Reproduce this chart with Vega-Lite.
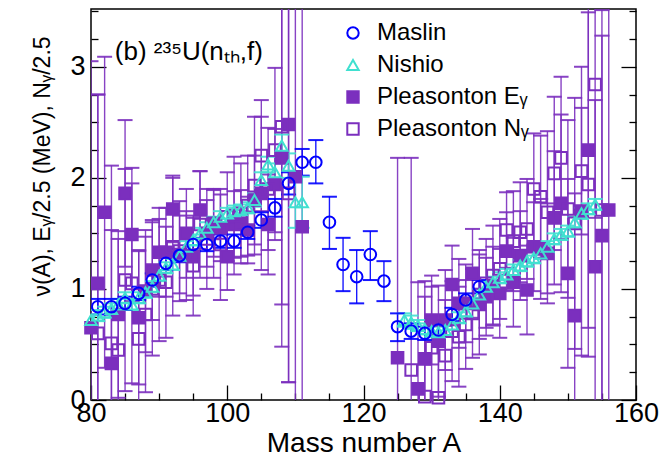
{
  "$schema": "https://vega.github.io/schema/vega-lite/v6.json",
  "width": 545,
  "height": 391,
  "autosize": {"type": "none"},
  "padding": {"left": 91, "top": 9, "right": 28, "bottom": 59},
  "background": "white",
  "config": {
    "view": {"stroke": "black", "strokeWidth": 1.5},
    "font": "Liberation Sans",
    "axis": {"domain": false, "grid": false, "tickColor": "black", "tickWidth": 1.3, "labelColor": "black", "titleColor": "black", "labelFont": "Liberation Sans", "titleFont": "Liberation Sans", "labelFontSize": 27, "titleFontSize": 23, "titleFontWeight": "normal", "labelOverlap": false, "labelFlush": false}
  },
  "datasets": {
    "pts": [
      {"s": "Pleasonton E\u1d67", "A": 80, "v": 0.65, "lo": -1.75, "hi": 3.05},
      {"s": "Pleasonton E\u1d67", "A": 81, "v": 1.05, "lo": -0.65, "hi": 2.75},
      {"s": "Pleasonton E\u1d67", "A": 82, "v": 1.69, "lo": 0.29, "hi": 3.09},
      {"s": "Pleasonton E\u1d67", "A": 83, "v": 0.33, "lo": -0.87, "hi": 1.53},
      {"s": "Pleasonton E\u1d67", "A": 84, "v": 0.77, "lo": 0.02, "hi": 1.52},
      {"s": "Pleasonton E\u1d67", "A": 85, "v": 1.86, "lo": 1.2, "hi": 2.52},
      {"s": "Pleasonton E\u1d67", "A": 86, "v": 1.49, "lo": 0.89, "hi": 2.09},
      {"s": "Pleasonton E\u1d67", "A": 87, "v": 0.74, "lo": 0.14, "hi": 1.34},
      {"s": "Pleasonton E\u1d67", "A": 88, "v": 0.98, "lo": 0.43, "hi": 1.53},
      {"s": "Pleasonton E\u1d67", "A": 89, "v": 1.17, "lo": 0.72, "hi": 1.62},
      {"s": "Pleasonton E\u1d67", "A": 90, "v": 1.33, "lo": 0.93, "hi": 1.73},
      {"s": "Pleasonton E\u1d67", "A": 91, "v": 1.33, "lo": 0.93, "hi": 1.73},
      {"s": "Pleasonton E\u1d67", "A": 92, "v": 1.72, "lo": 1.42, "hi": 2.02},
      {"s": "Pleasonton E\u1d67", "A": 93, "v": 1.31, "lo": 0.96, "hi": 1.66},
      {"s": "Pleasonton E\u1d67", "A": 94, "v": 1.5, "lo": 1.1, "hi": 1.9},
      {"s": "Pleasonton E\u1d67", "A": 95, "v": 1.29, "lo": 0.94, "hi": 1.64},
      {"s": "Pleasonton E\u1d67", "A": 96, "v": 1.71, "lo": 1.36, "hi": 2.06},
      {"s": "Pleasonton E\u1d67", "A": 97, "v": 1.5, "lo": 1.2, "hi": 1.8},
      {"s": "Pleasonton E\u1d67", "A": 98, "v": 1.59, "lo": 1.29, "hi": 1.89},
      {"s": "Pleasonton E\u1d67", "A": 99, "v": 1.55, "lo": 1.25, "hi": 1.85},
      {"s": "Pleasonton E\u1d67", "A": 100, "v": 1.29, "lo": 0.99, "hi": 1.59},
      {"s": "Pleasonton E\u1d67", "A": 101, "v": 1.58, "lo": 1.28, "hi": 1.88},
      {"s": "Pleasonton E\u1d67", "A": 102, "v": 1.59, "lo": 1.29, "hi": 1.89},
      {"s": "Pleasonton E\u1d67", "A": 103, "v": 1.53, "lo": 1.23, "hi": 1.83},
      {"s": "Pleasonton E\u1d67", "A": 104, "v": 1.8, "lo": 1.4, "hi": 2.2},
      {"s": "Pleasonton E\u1d67", "A": 105, "v": 1.86, "lo": 1.17, "hi": 2.55},
      {"s": "Pleasonton E\u1d67", "A": 106, "v": 1.58, "lo": 1.13, "hi": 2.03},
      {"s": "Pleasonton E\u1d67", "A": 107, "v": 1.94, "lo": 1.44, "hi": 2.44},
      {"s": "Pleasonton E\u1d67", "A": 108, "v": 2.18, "lo": 0.48, "hi": 3.88},
      {"s": "Pleasonton E\u1d67", "A": 109, "v": 2.48, "lo": 0.16, "hi": 4.8},
      {"s": "Pleasonton E\u1d67", "A": 110, "v": 2.01, "lo": -0.19, "hi": 4.21},
      {"s": "Pleasonton E\u1d67", "A": 111, "v": 1.56, "lo": -0.64, "hi": 3.76},
      {"s": "Pleasonton E\u1d67", "A": 125, "v": 0.38, "lo": -1.42, "hi": 2.18},
      {"s": "Pleasonton E\u1d67", "A": 128, "v": 0.1, "lo": -0.86, "hi": 1.06},
      {"s": "Pleasonton E\u1d67", "A": 129, "v": 0.37, "lo": -0.33, "hi": 1.07},
      {"s": "Pleasonton E\u1d67", "A": 130, "v": 0.72, "lo": 0.32, "hi": 1.12},
      {"s": "Pleasonton E\u1d67", "A": 131, "v": 0.53, "lo": 0.03, "hi": 1.03},
      {"s": "Pleasonton E\u1d67", "A": 132, "v": 0.72, "lo": 0.27, "hi": 1.17},
      {"s": "Pleasonton E\u1d67", "A": 133, "v": 1.04, "lo": 0.69, "hi": 1.39},
      {"s": "Pleasonton E\u1d67", "A": 134, "v": 0.87, "lo": 0.47, "hi": 1.27},
      {"s": "Pleasonton E\u1d67", "A": 135, "v": 0.87, "lo": 0.52, "hi": 1.22},
      {"s": "Pleasonton E\u1d67", "A": 136, "v": 1.14, "lo": 0.74, "hi": 1.54},
      {"s": "Pleasonton E\u1d67", "A": 137, "v": 0.86, "lo": 0.41, "hi": 1.31},
      {"s": "Pleasonton E\u1d67", "A": 138, "v": 0.93, "lo": 0.58, "hi": 1.28},
      {"s": "Pleasonton E\u1d67", "A": 139, "v": 1.03, "lo": 0.68, "hi": 1.38},
      {"s": "Pleasonton E\u1d67", "A": 140, "v": 0.96, "lo": 0.56, "hi": 1.36},
      {"s": "Pleasonton E\u1d67", "A": 141, "v": 1.34, "lo": 0.99, "hi": 1.69},
      {"s": "Pleasonton E\u1d67", "A": 142, "v": 1.06, "lo": 0.66, "hi": 1.46},
      {"s": "Pleasonton E\u1d67", "A": 143, "v": 1.3, "lo": 0.9, "hi": 1.7},
      {"s": "Pleasonton E\u1d67", "A": 144, "v": 0.99, "lo": 0.59, "hi": 1.39},
      {"s": "Pleasonton E\u1d67", "A": 145, "v": 1.38, "lo": 0.98, "hi": 1.78},
      {"s": "Pleasonton E\u1d67", "A": 146, "v": 1.36, "lo": 0.91, "hi": 1.81},
      {"s": "Pleasonton E\u1d67", "A": 147, "v": 1.32, "lo": 0.87, "hi": 1.77},
      {"s": "Pleasonton E\u1d67", "A": 148, "v": 1.64, "lo": 1.04, "hi": 2.24},
      {"s": "Pleasonton E\u1d67", "A": 149, "v": 1.77, "lo": 0.97, "hi": 2.57},
      {"s": "Pleasonton E\u1d67", "A": 150, "v": 1.14, "lo": 0.29, "hi": 1.99},
      {"s": "Pleasonton E\u1d67", "A": 151, "v": 0.76, "lo": -0.34, "hi": 1.86},
      {"s": "Pleasonton E\u1d67", "A": 152, "v": 1.7, "lo": 0.4, "hi": 3.0},
      {"s": "Pleasonton E\u1d67", "A": 153, "v": 2.25, "lo": 0.65, "hi": 3.85},
      {"s": "Pleasonton E\u1d67", "A": 154, "v": 1.2, "lo": -0.3, "hi": 2.7},
      {"s": "Pleasonton E\u1d67", "A": 155, "v": 1.48, "lo": -0.32, "hi": 3.28},
      {"s": "Pleasonton E\u1d67", "A": 156, "v": 1.71, "lo": -0.19, "hi": 3.61},
      {"s": "Pleasonton N\u1d67", "A": 81, "v": 0.6, "lo": -1.55, "hi": 2.75},
      {"s": "Pleasonton N\u1d67", "A": 83, "v": 0.51, "lo": -1.09, "hi": 2.11},
      {"s": "Pleasonton N\u1d67", "A": 84, "v": 0.45, "lo": -0.55, "hi": 1.45},
      {"s": "Pleasonton N\u1d67", "A": 85, "v": 1.08, "lo": 0.08, "hi": 2.08},
      {"s": "Pleasonton N\u1d67", "A": 86, "v": 1.05, "lo": 0.15, "hi": 1.95},
      {"s": "Pleasonton N\u1d67", "A": 87, "v": 0.55, "lo": -0.25, "hi": 1.35},
      {"s": "Pleasonton N\u1d67", "A": 88, "v": 0.77, "lo": 0.07, "hi": 1.47},
      {"s": "Pleasonton N\u1d67", "A": 89, "v": 1.0, "lo": 0.4, "hi": 1.6},
      {"s": "Pleasonton N\u1d67", "A": 90, "v": 1.08, "lo": 0.53, "hi": 1.63},
      {"s": "Pleasonton N\u1d67", "A": 91, "v": 1.06, "lo": 0.56, "hi": 1.56},
      {"s": "Pleasonton N\u1d67", "A": 92, "v": 1.38, "lo": 0.76, "hi": 2.0},
      {"s": "Pleasonton N\u1d67", "A": 93, "v": 1.34, "lo": 0.89, "hi": 1.79},
      {"s": "Pleasonton N\u1d67", "A": 94, "v": 1.3, "lo": 0.9, "hi": 1.7},
      {"s": "Pleasonton N\u1d67", "A": 95, "v": 1.21, "lo": 0.76, "hi": 1.66},
      {"s": "Pleasonton N\u1d67", "A": 96, "v": 1.58, "lo": 1.1, "hi": 2.06},
      {"s": "Pleasonton N\u1d67", "A": 97, "v": 1.45, "lo": 1.0, "hi": 1.9},
      {"s": "Pleasonton N\u1d67", "A": 98, "v": 1.5, "lo": 1.1, "hi": 1.9},
      {"s": "Pleasonton N\u1d67", "A": 99, "v": 1.4, "lo": 0.9, "hi": 1.9},
      {"s": "Pleasonton N\u1d67", "A": 100, "v": 1.65, "lo": 1.25, "hi": 2.05},
      {"s": "Pleasonton N\u1d67", "A": 101, "v": 1.66, "lo": 1.13, "hi": 2.19},
      {"s": "Pleasonton N\u1d67", "A": 102, "v": 1.68, "lo": 1.23, "hi": 2.13},
      {"s": "Pleasonton N\u1d67", "A": 103, "v": 1.75, "lo": 1.3, "hi": 2.2},
      {"s": "Pleasonton N\u1d67", "A": 104, "v": 1.93, "lo": 1.31, "hi": 2.55},
      {"s": "Pleasonton N\u1d67", "A": 105, "v": 2.2, "lo": 1.7, "hi": 2.7},
      {"s": "Pleasonton N\u1d67", "A": 106, "v": 1.9, "lo": 1.35, "hi": 2.45},
      {"s": "Pleasonton N\u1d67", "A": 107, "v": 2.25, "lo": 1.51, "hi": 2.99},
      {"s": "Pleasonton N\u1d67", "A": 108, "v": 2.46, "lo": 0.86, "hi": 4.06},
      {"s": "Pleasonton N\u1d67", "A": 109, "v": 1.86, "lo": 0.16, "hi": 3.56},
      {"s": "Pleasonton N\u1d67", "A": 127, "v": 0.27, "lo": -1.64, "hi": 2.18},
      {"s": "Pleasonton N\u1d67", "A": 129, "v": 0.03, "lo": -0.87, "hi": 0.93},
      {"s": "Pleasonton N\u1d67", "A": 130, "v": 0.47, "lo": -0.08, "hi": 1.02},
      {"s": "Pleasonton N\u1d67", "A": 131, "v": 0.02, "lo": -0.68, "hi": 0.72},
      {"s": "Pleasonton N\u1d67", "A": 132, "v": 0.4, "lo": -0.1, "hi": 0.9},
      {"s": "Pleasonton N\u1d67", "A": 133, "v": 0.62, "lo": 0.17, "hi": 1.07},
      {"s": "Pleasonton N\u1d67", "A": 134, "v": 0.57, "lo": 0.12, "hi": 1.02},
      {"s": "Pleasonton N\u1d67", "A": 135, "v": 0.68, "lo": 0.28, "hi": 1.08},
      {"s": "Pleasonton N\u1d67", "A": 136, "v": 0.78, "lo": 0.38, "hi": 1.18},
      {"s": "Pleasonton N\u1d67", "A": 137, "v": 0.95, "lo": 0.55, "hi": 1.35},
      {"s": "Pleasonton N\u1d67", "A": 138, "v": 1.05, "lo": 0.65, "hi": 1.45},
      {"s": "Pleasonton N\u1d67", "A": 139, "v": 1.12, "lo": 0.67, "hi": 1.57},
      {"s": "Pleasonton N\u1d67", "A": 140, "v": 1.18, "lo": 0.73, "hi": 1.63},
      {"s": "Pleasonton N\u1d67", "A": 141, "v": 1.53, "lo": 1.19, "hi": 1.87},
      {"s": "Pleasonton N\u1d67", "A": 142, "v": 1.43, "lo": 0.98, "hi": 1.88},
      {"s": "Pleasonton N\u1d67", "A": 143, "v": 1.51, "lo": 1.06, "hi": 1.96},
      {"s": "Pleasonton N\u1d67", "A": 144, "v": 1.54, "lo": 1.09, "hi": 1.99},
      {"s": "Pleasonton N\u1d67", "A": 145, "v": 1.9, "lo": 1.4, "hi": 2.4},
      {"s": "Pleasonton N\u1d67", "A": 146, "v": 1.83, "lo": 1.28, "hi": 2.38},
      {"s": "Pleasonton N\u1d67", "A": 147, "v": 1.69, "lo": 0.96, "hi": 2.42},
      {"s": "Pleasonton N\u1d67", "A": 148, "v": 2.04, "lo": 1.35, "hi": 2.73},
      {"s": "Pleasonton N\u1d67", "A": 149, "v": 2.18, "lo": 1.45, "hi": 2.91},
      {"s": "Pleasonton N\u1d67", "A": 150, "v": 1.72, "lo": 0.92, "hi": 2.52},
      {"s": "Pleasonton N\u1d67", "A": 151, "v": 1.59, "lo": 0.46, "hi": 2.72},
      {"s": "Pleasonton N\u1d67", "A": 152, "v": 2.06, "lo": 1.49, "hi": 2.63},
      {"s": "Pleasonton N\u1d67", "A": 153, "v": 1.94, "lo": 0.39, "hi": 3.49},
      {"s": "Pleasonton N\u1d67", "A": 154, "v": 2.84, "lo": 1.64, "hi": 4.04},
      {"s": "Pleasonton N\u1d67", "A": 155, "v": 1.71, "lo": -0.09, "hi": 3.51},
      {"s": "Nishio", "A": 80, "v": 0.72, "lo": 0.67, "hi": 0.77},
      {"s": "Nishio", "A": 81, "v": 0.76, "lo": 0.71, "hi": 0.81},
      {"s": "Nishio", "A": 82, "v": 0.79, "lo": 0.74, "hi": 0.84},
      {"s": "Nishio", "A": 83, "v": 0.82, "lo": 0.77, "hi": 0.87},
      {"s": "Nishio", "A": 84, "v": 0.86, "lo": 0.81, "hi": 0.91},
      {"s": "Nishio", "A": 85, "v": 0.92, "lo": 0.87, "hi": 0.97},
      {"s": "Nishio", "A": 86, "v": 0.86, "lo": 0.81, "hi": 0.91},
      {"s": "Nishio", "A": 87, "v": 0.92, "lo": 0.87, "hi": 0.97},
      {"s": "Nishio", "A": 88, "v": 0.97, "lo": 0.92, "hi": 1.02},
      {"s": "Nishio", "A": 89, "v": 1.02, "lo": 0.97, "hi": 1.07},
      {"s": "Nishio", "A": 90, "v": 1.12, "lo": 1.07, "hi": 1.17},
      {"s": "Nishio", "A": 91, "v": 1.19, "lo": 1.14, "hi": 1.24},
      {"s": "Nishio", "A": 92, "v": 1.22, "lo": 1.17, "hi": 1.27},
      {"s": "Nishio", "A": 93, "v": 1.3, "lo": 1.25, "hi": 1.35},
      {"s": "Nishio", "A": 94, "v": 1.38, "lo": 1.33, "hi": 1.43},
      {"s": "Nishio", "A": 95, "v": 1.44, "lo": 1.39, "hi": 1.49},
      {"s": "Nishio", "A": 96, "v": 1.5, "lo": 1.45, "hi": 1.55},
      {"s": "Nishio", "A": 97, "v": 1.55, "lo": 1.5, "hi": 1.6},
      {"s": "Nishio", "A": 98, "v": 1.6, "lo": 1.55, "hi": 1.65},
      {"s": "Nishio", "A": 99, "v": 1.65, "lo": 1.6, "hi": 1.7},
      {"s": "Nishio", "A": 100, "v": 1.68, "lo": 1.63, "hi": 1.73},
      {"s": "Nishio", "A": 101, "v": 1.7, "lo": 1.65, "hi": 1.75},
      {"s": "Nishio", "A": 102, "v": 1.71, "lo": 1.66, "hi": 1.76},
      {"s": "Nishio", "A": 103, "v": 1.73, "lo": 1.68, "hi": 1.78},
      {"s": "Nishio", "A": 104, "v": 1.8, "lo": 1.74, "hi": 1.86},
      {"s": "Nishio", "A": 105, "v": 1.98, "lo": 1.91, "hi": 2.05},
      {"s": "Nishio", "A": 106, "v": 2.12, "lo": 2.05, "hi": 2.19},
      {"s": "Nishio", "A": 107, "v": 2.05, "lo": 1.97, "hi": 2.13},
      {"s": "Nishio", "A": 108, "v": 2.29, "lo": 2.19, "hi": 2.39},
      {"s": "Nishio", "A": 109, "v": 2.11, "lo": 2.0, "hi": 2.22},
      {"s": "Nishio", "A": 110, "v": 1.78, "lo": 1.55, "hi": 2.01},
      {"s": "Nishio", "A": 111, "v": 1.78, "lo": 1.55, "hi": 2.01},
      {"s": "Nishio", "A": 126, "v": 0.72, "lo": 0.66, "hi": 0.78},
      {"s": "Nishio", "A": 127, "v": 0.7, "lo": 0.64, "hi": 0.76},
      {"s": "Nishio", "A": 128, "v": 0.67, "lo": 0.62, "hi": 0.72},
      {"s": "Nishio", "A": 129, "v": 0.64, "lo": 0.59, "hi": 0.69},
      {"s": "Nishio", "A": 130, "v": 0.62, "lo": 0.57, "hi": 0.67},
      {"s": "Nishio", "A": 131, "v": 0.61, "lo": 0.56, "hi": 0.66},
      {"s": "Nishio", "A": 132, "v": 0.63, "lo": 0.58, "hi": 0.68},
      {"s": "Nishio", "A": 133, "v": 0.68, "lo": 0.63, "hi": 0.73},
      {"s": "Nishio", "A": 134, "v": 0.74, "lo": 0.69, "hi": 0.79},
      {"s": "Nishio", "A": 135, "v": 0.8, "lo": 0.75, "hi": 0.85},
      {"s": "Nishio", "A": 136, "v": 0.87, "lo": 0.82, "hi": 0.92},
      {"s": "Nishio", "A": 137, "v": 0.95, "lo": 0.9, "hi": 1.0},
      {"s": "Nishio", "A": 138, "v": 1.02, "lo": 0.97, "hi": 1.07},
      {"s": "Nishio", "A": 139, "v": 1.06, "lo": 1.01, "hi": 1.11},
      {"s": "Nishio", "A": 140, "v": 1.1, "lo": 1.05, "hi": 1.15},
      {"s": "Nishio", "A": 141, "v": 1.13, "lo": 1.08, "hi": 1.18},
      {"s": "Nishio", "A": 142, "v": 1.17, "lo": 1.12, "hi": 1.22},
      {"s": "Nishio", "A": 143, "v": 1.21, "lo": 1.16, "hi": 1.26},
      {"s": "Nishio", "A": 144, "v": 1.25, "lo": 1.2, "hi": 1.3},
      {"s": "Nishio", "A": 145, "v": 1.28, "lo": 1.23, "hi": 1.33},
      {"s": "Nishio", "A": 146, "v": 1.32, "lo": 1.27, "hi": 1.37},
      {"s": "Nishio", "A": 147, "v": 1.38, "lo": 1.33, "hi": 1.43},
      {"s": "Nishio", "A": 148, "v": 1.45, "lo": 1.4, "hi": 1.5},
      {"s": "Nishio", "A": 149, "v": 1.49, "lo": 1.44, "hi": 1.54},
      {"s": "Nishio", "A": 150, "v": 1.52, "lo": 1.47, "hi": 1.57},
      {"s": "Nishio", "A": 151, "v": 1.6, "lo": 1.55, "hi": 1.65},
      {"s": "Nishio", "A": 152, "v": 1.68, "lo": 1.63, "hi": 1.73},
      {"s": "Nishio", "A": 153, "v": 1.72, "lo": 1.67, "hi": 1.77},
      {"s": "Nishio", "A": 154, "v": 1.76, "lo": 1.71, "hi": 1.81},
      {"s": "Maslin", "A": 81, "v": 0.84, "lo": 0.77, "hi": 0.91},
      {"s": "Maslin", "A": 83, "v": 0.84, "lo": 0.77, "hi": 0.91},
      {"s": "Maslin", "A": 85, "v": 0.87, "lo": 0.81, "hi": 0.93},
      {"s": "Maslin", "A": 87, "v": 0.96, "lo": 0.9, "hi": 1.02},
      {"s": "Maslin", "A": 89, "v": 1.08, "lo": 1.02, "hi": 1.14},
      {"s": "Maslin", "A": 91, "v": 1.23, "lo": 1.17, "hi": 1.29},
      {"s": "Maslin", "A": 93, "v": 1.3, "lo": 1.24, "hi": 1.36},
      {"s": "Maslin", "A": 95, "v": 1.4, "lo": 1.34, "hi": 1.46},
      {"s": "Maslin", "A": 97, "v": 1.4, "lo": 1.34, "hi": 1.46},
      {"s": "Maslin", "A": 99, "v": 1.43, "lo": 1.37, "hi": 1.49},
      {"s": "Maslin", "A": 101, "v": 1.43, "lo": 1.37, "hi": 1.49},
      {"s": "Maslin", "A": 103, "v": 1.51, "lo": 1.45, "hi": 1.57},
      {"s": "Maslin", "A": 105, "v": 1.62, "lo": 1.55, "hi": 1.69},
      {"s": "Maslin", "A": 107, "v": 1.73, "lo": 1.65, "hi": 1.81},
      {"s": "Maslin", "A": 109, "v": 1.95, "lo": 1.85, "hi": 2.05},
      {"s": "Maslin", "A": 111, "v": 2.14, "lo": 2.02, "hi": 2.26},
      {"s": "Maslin", "A": 113, "v": 2.14, "lo": 1.95, "hi": 2.34},
      {"s": "Maslin", "A": 115, "v": 1.6, "lo": 1.36, "hi": 1.83},
      {"s": "Maslin", "A": 117, "v": 1.22, "lo": 0.98, "hi": 1.46},
      {"s": "Maslin", "A": 119, "v": 1.11, "lo": 0.87, "hi": 1.35},
      {"s": "Maslin", "A": 121, "v": 1.31, "lo": 1.08, "hi": 1.52},
      {"s": "Maslin", "A": 123, "v": 1.07, "lo": 0.89, "hi": 1.25},
      {"s": "Maslin", "A": 125, "v": 0.66, "lo": 0.53, "hi": 0.78},
      {"s": "Maslin", "A": 127, "v": 0.62, "lo": 0.55, "hi": 0.69},
      {"s": "Maslin", "A": 129, "v": 0.6, "lo": 0.54, "hi": 0.66},
      {"s": "Maslin", "A": 131, "v": 0.63, "lo": 0.57, "hi": 0.69},
      {"s": "Maslin", "A": 133, "v": 0.77, "lo": 0.71, "hi": 0.83},
      {"s": "Maslin", "A": 135, "v": 0.9, "lo": 0.84, "hi": 0.96},
      {"s": "Maslin", "A": 137, "v": 1.02, "lo": 0.96, "hi": 1.08}
    ]
  },
  "data": {"name": "pts"},
  "resolve": {"axis": {"x": "independent", "y": "independent"}},
  "layer": [
    {
      "mark": {"type": "rule", "clip": true, "opacity": 0.9},
      "encoding": {
        "x": {"field": "A", "type": "quantitative", "scale": {"domain": [80, 160], "nice": false, "zero": false},
          "axis": {"orient": "bottom", "values": [80, 100, 120, 140, 160], "tickSize": -15, "labelPadding": 15, "title": "Mass number A", "titleY": 51, "titleBaseline": "alphabetic", "titleFontSize": 28}},
        "y": {"field": "lo", "type": "quantitative", "scale": {"domain": [0, 3.52], "nice": false, "zero": false},
          "axis": {"orient": "left", "values": [0, 1, 2, 3], "tickSize": -15, "labelPadding": 21, "title": "\u03bd(A),  E\u1d67/2.5 (MeV),  N\u1d67/2.5", "titleX": -42, "titleY": 157, "titleBaseline": "alphabetic", "titleFontSize": 23}},
        "y2": {"field": "hi"},
        "color": {"field": "s", "type": "nominal", "scale": {"domain": ["Pleasonton E\u1d67", "Pleasonton N\u1d67", "Nishio", "Maslin"], "range": ["#7b2fbe", "#7b2fbe", "#40e0d0", "#0000ff"]}, "legend": null},
        "strokeWidth": {"field": "s", "type": "nominal", "scale": {"domain": ["Pleasonton E\u1d67", "Pleasonton N\u1d67", "Nishio", "Maslin"], "range": [1.4, 1.4, 1.6, 2.3]}, "legend": null}
      }
    },
    {
      "mark": {"type": "tick", "orient": "horizontal", "clip": true, "thickness": 2, "size": 15, "opacity": 0.9},
      "encoding": {
        "x": {"field": "A", "type": "quantitative", "scale": {"domain": [80, 160], "nice": false, "zero": false},
          "axis": {"orient": "bottom", "values": [85, 90, 95, 105, 110, 115, 125, 130, 135, 145, 150, 155], "tickSize": -7, "labels": false, "title": null}},
        "y": {"field": "lo", "type": "quantitative", "scale": {"domain": [0, 3.52], "nice": false, "zero": false},
          "axis": {"orient": "left", "values": [0.25, 0.5, 0.75, 1.25, 1.5, 1.75, 2.25, 2.5, 2.75, 3.25, 3.5], "tickSize": -7, "labels": false, "title": null}},
        "color": {"field": "s", "type": "nominal", "scale": {"domain": ["Pleasonton E\u1d67", "Pleasonton N\u1d67", "Nishio", "Maslin"], "range": ["#7b2fbe", "#7b2fbe", "#40e0d0", "#0000ff"]}, "legend": null}
      }
    },
    {
      "mark": {"type": "tick", "orient": "horizontal", "clip": true, "thickness": 2, "size": 15, "opacity": 0.9},
      "encoding": {
        "x": {"field": "A", "type": "quantitative", "scale": {"domain": [80, 160], "nice": false, "zero": false}, "axis": null},
        "y": {"field": "hi", "type": "quantitative", "scale": {"domain": [0, 3.52], "nice": false, "zero": false},
          "axis": {"orient": "right", "values": [0, 1, 2, 3], "tickSize": -15, "labels": false, "title": null}},
        "color": {"field": "s", "type": "nominal", "scale": {"domain": ["Pleasonton E\u1d67", "Pleasonton N\u1d67", "Nishio", "Maslin"], "range": ["#7b2fbe", "#7b2fbe", "#40e0d0", "#0000ff"]}, "legend": null}
      }
    },
    {
      "mark": {"type": "point", "size": 135, "strokeWidth": 2, "opacity": 1},
      "encoding": {
        "x": {"field": "A", "type": "quantitative", "scale": {"domain": [80, 160], "nice": false, "zero": false}, "axis": null},
        "y": {"field": "v", "type": "quantitative", "scale": {"domain": [0, 3.52], "nice": false, "zero": false},
          "axis": {"orient": "right", "values": [0.25, 0.5, 0.75, 1.25, 1.5, 1.75, 2.25, 2.5, 2.75, 3.25, 3.5], "tickSize": -7, "labels": false, "title": null}},
        "shape": {"field": "s", "type": "nominal", "scale": {"domain": ["Maslin", "Nishio", "Pleasonton E\u1d67", "Pleasonton N\u1d67"], "range": ["circle", "triangle-up", "square", "square"]},
          "legend": {"title": null, "orient": "none", "legendX": 250, "legendY": 12, "labelFont": "Liberation Sans", "labelFontSize": 24, "labelColor": "black", "symbolSize": 130, "symbolStrokeWidth": 2, "rowPadding": 8, "labelOffset": 12, "padding": 0}},
        "stroke": {"field": "s", "type": "nominal", "scale": {"domain": ["Maslin", "Nishio", "Pleasonton E\u1d67", "Pleasonton N\u1d67"], "range": ["#0000ff", "#40e0d0", "#7b2fbe", "#7b2fbe"]},
          "legend": {"title": null, "orient": "none", "legendX": 250, "legendY": 12, "labelFont": "Liberation Sans", "labelFontSize": 24, "labelColor": "black", "symbolSize": 130, "symbolStrokeWidth": 2, "rowPadding": 8, "labelOffset": 12, "padding": 0}},
        "fill": {"field": "s", "type": "nominal", "scale": {"domain": ["Maslin", "Nishio", "Pleasonton E\u1d67", "Pleasonton N\u1d67"], "range": ["transparent", "transparent", "#7b2fbe", "transparent"]},
          "legend": {"title": null, "orient": "none", "legendX": 250, "legendY": 12, "labelFont": "Liberation Sans", "labelFontSize": 24, "labelColor": "black", "symbolSize": 130, "symbolStrokeWidth": 2, "rowPadding": 8, "labelOffset": 12, "padding": 0}}
      }
    },
    {
      "data": {"values": [{}]},
      "mark": {"type": "text", "align": "left", "baseline": "alphabetic", "fontSize": 26, "font": "Liberation Sans", "color": "black"},
      "encoding": {
        "x": {"datum": 83.5, "type": "quantitative", "scale": {"domain": [80, 160], "nice": false, "zero": false}, "axis": null},
        "y": {"datum": 3.06, "type": "quantitative", "scale": {"domain": [0, 3.52], "nice": false, "zero": false}, "axis": null},
        "text": {"value": "(b) \u00b2\u00b3\u2075U(n\u209c\u2095,f)"}
      }
    }
  ]
}
